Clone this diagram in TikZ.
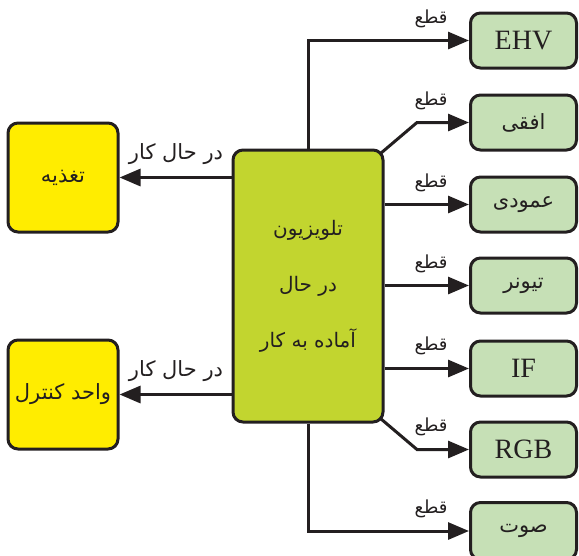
\documentclass[tikz,border=0pt]{standalone}
\usepackage{fontspec}
\setmainfont{Liberation Serif}
\newfontfamily\arabicfont[Script=Arabic]{DejaVu Sans}
\TeXXeTstate=1
\usetikzlibrary{arrows.meta,calc}
\definecolor{yel}{HTML}{FFED00}
\definecolor{cgreen}{HTML}{C2D52F}
\definecolor{lgreen}{HTML}{C6E0B6}
\definecolor{bord}{HTML}{231F20}
\newcommand{\fatext}[1]{{\arabicfont\beginR #1\endR}}
\tikzset{
  basebox/.style={draw=bord, line width=3pt, rounded corners=10pt, inner sep=0pt, text=bord},
  ybox/.style={basebox, fill=yel, minimum width=110pt, minimum height=109pt, font=\fontsize{21}{24}\selectfont},
  cbox/.style={basebox, fill=cgreen, minimum width=150pt, minimum height=272pt, align=center, font=\fontsize{20}{56}\selectfont},
  gbox/.style={basebox, fill=lgreen, minimum width=106pt, minimum height=55pt, font=\fontsize{28}{30}\selectfont},
  pbox/.style={gbox, font=\fontsize{21}{24}\selectfont},
  arr/.style={draw=bord, line width=3pt, -{Triangle[length=21pt,width=17pt]}},
  cut/.style={font=\fontsize{18}{20}\selectfont, text=bord, inner sep=0pt},
  run/.style={font=\fontsize{21}{24}\selectfont, text=bord, inner sep=0pt}
}
\begin{document}
\begin{tikzpicture}[x=1pt,y=-1pt]
\useasboundingbox (0,0) rectangle (579,555);
\clip (0,0) rectangle (579,555);
% boxes
\node[ybox] (pw) at (63,177.5) {\fatext{تغذیه}};
\node[ybox] (ctl) at (63,394.5) {\fatext{واحد کنترل}};
\node[cbox] (tv) at (308,286) {\fatext{تلویزیون}\\ \fatext{در حال}\\ \fatext{آماده به کار}};
\node[gbox] (ehv) at (523.5,40.5) {EHV};
\node[pbox] (hor) at (523.5,122.5) {\fatext{افقی}};
\node[pbox] (ver) at (523.5,204.5) {\fatext{عمودی}};
\node[pbox] (tun) at (523.5,285.5) {\fatext{تیونر}};
\node[gbox] (ifb) at (523.5,368.5) {IF};
\node[gbox] (rgb) at (523.5,449.5) {RGB};
\node[pbox, minimum height=57pt] (snd) at (523.5,531) {\fatext{صوت}};
% connectors
\draw[arr] (tv.west |- pw.east) -- (pw.east);
\draw[arr] (tv.west |- ctl.east) -- (ctl.east);
\draw[arr] (tv.north) |- (ehv.west);
\coordinate (k1) at (417,122.5);
\coordinate (s1) at ($(tv.north east)+(-4,5)$);
\draw[arr] (s1) -- (k1) -- (hor.west);
\draw[arr] (tv.east |- ver.west) -- (ver.west);
\draw[arr] (tv.east |- tun.west) -- (tun.west);
\draw[arr] (tv.east |- ifb.west) -- (ifb.west);
\coordinate (k2) at (417,449.5);
\coordinate (s2) at ($(tv.south east)+(-4,-5)$);
\draw[arr] (s2) -- (k2) -- (rgb.west);
\draw[arr] (tv.south) |- (snd.west);
% labels
\node[run] (r1) at (176,154) {\fatext{در حال کار}};
\node[run] (r2) at (176,371) {\fatext{در حال کار}};
\node[cut] (c1) at (431,19) {\fatext{قطع}};
\node[cut] (c2) at (431,101) {\fatext{قطع}};
\node[cut] (c3) at (431,183) {\fatext{قطع}};
\node[cut] (c4) at (431,264) {\fatext{قطع}};
\node[cut] (c5) at (431,346) {\fatext{قطع}};
\node[cut] (c6) at (431,427) {\fatext{قطع}};
\node[cut] (c7) at (431,509) {\fatext{قطع}};
\end{tikzpicture}
\end{document}
